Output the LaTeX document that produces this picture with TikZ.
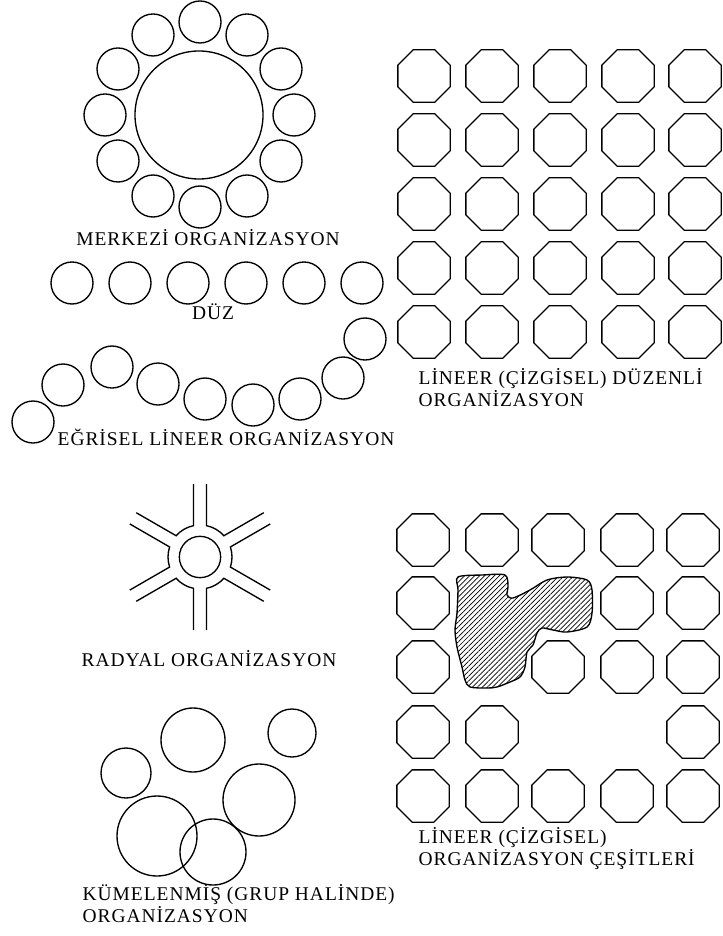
\documentclass[tikz,border=0pt]{standalone}
\usepackage{fontspec}
\setmainfont{Liberation Serif}[LetterSpace=5]
\usetikzlibrary{shapes.geometric,patterns.meta,calc}

\begin{document}
\begin{tikzpicture}[
  x=0.03cm,y=-0.03cm,
  line width=1.15pt,
  seat/.style={circle,draw,inner sep=0pt,minimum size=1.26cm},
  bigseat/.style={circle,draw,inner sep=0pt,minimum size=3.84cm},
  cell/.style={regular polygon,regular polygon sides=8,draw,inner sep=0pt,minimum size=1.7cm},
  group/.style={circle,draw,inner sep=0pt},
  caption/.style={font=\fontsize{16.6}{18.8}\selectfont,align=left,inner sep=0pt}
]
  \useasboundingbox (0,0) rectangle (722,936);

  \node[bigseat] (m0) at (199,115) {};
  \node[seat] (m1) at (200,22) {};
  \node[seat] (m2) at (247,35) {};
  \node[seat] (m3) at (281,69) {};
  \node[seat] (m4) at (294,115) {};
  \node[seat] (m5) at (281,161) {};
  \node[seat] (m6) at (247,196) {};
  \node[seat] (m7) at (200,207) {};
  \node[seat] (m8) at (153,196) {};
  \node[seat] (m9) at (118,161) {};
  \node[seat] (m10) at (105,115) {};
  \node[seat] (m11) at (118,69) {};
  \node[seat] (m12) at (153,35) {};
  \node[caption] (lmerk) at (208,238) {MERKEZİ ORGANİZASYON};

  \node[seat] (d1) at (72,283) {};
  \node[seat] (d2) at (130,283) {};
  \node[seat] (d3) at (188,283) {};
  \node[seat] (d4) at (246,283) {};
  \node[seat] (d5) at (304,283) {};
  \node[seat] (d6) at (362,283) {};
  \node[caption] (lduz) at (213,312) {DÜZ};

  \node[seat] (e1) at (33,422) {};
  \node[seat] (e2) at (63,385) {};
  \node[seat] (e3) at (112,367) {};
  \node[seat] (e4) at (158,384) {};
  \node[seat] (e5) at (205,399) {};
  \node[seat] (e6) at (253,405) {};
  \node[seat] (e7) at (300,399) {};
  \node[seat] (e8) at (343,378) {};
  \node[seat] (e9) at (365,339) {};
  \node[caption] (legri) at (226,437) {EĞRİSEL LİNEER ORGANİZASYON};

  \node[cell] (g11) at (424,76) {};
  \node[cell] (g12) at (492,76) {};
  \node[cell] (g13) at (560,76) {};
  \node[cell] (g14) at (628,76) {};
  \node[cell] (g15) at (695,76) {};
  \node[cell] (g21) at (424,140) {};
  \node[cell] (g22) at (492,140) {};
  \node[cell] (g23) at (560,140) {};
  \node[cell] (g24) at (628,140) {};
  \node[cell] (g25) at (695,140) {};
  \node[cell] (g31) at (424,204) {};
  \node[cell] (g32) at (492,204) {};
  \node[cell] (g33) at (560,204) {};
  \node[cell] (g34) at (628,204) {};
  \node[cell] (g35) at (695,204) {};
  \node[cell] (g41) at (424,268) {};
  \node[cell] (g42) at (492,268) {};
  \node[cell] (g43) at (560,268) {};
  \node[cell] (g44) at (628,268) {};
  \node[cell] (g45) at (695,268) {};
  \node[cell] (g51) at (424,332) {};
  \node[cell] (g52) at (492,332) {};
  \node[cell] (g53) at (560,332) {};
  \node[cell] (g54) at (628,332) {};
  \node[cell] (g55) at (695,332) {};
  \node[caption,anchor=west] (lgrid) at (418,388) {LİNEER (ÇİZGİSEL) DÜZENLİ\\ORGANİZASYON};

  \node[seat,minimum size=1.24cm] (hub) at (200,557) {};
  \draw ($(hub.center)+(41.7:0.96cm)+(30:1.38cm)$) -- ($(hub.center)+(41.7:0.96cm)$)
    arc[start angle=41.7,end angle=78.3,radius=0.96cm] -- ++(90:1.25cm);
  \draw ($(hub.center)+(101.7:0.96cm)+(90:1.25cm)$) -- ($(hub.center)+(101.7:0.96cm)$)
    arc[start angle=101.7,end angle=138.3,radius=0.96cm] -- ++(150:1.38cm);
  \draw ($(hub.center)+(161.7:0.96cm)+(150:1.38cm)$) -- ($(hub.center)+(161.7:0.96cm)$)
    arc[start angle=161.7,end angle=198.3,radius=0.96cm] -- ++(210:1.38cm);
  \draw ($(hub.center)+(221.7:0.96cm)+(210:1.38cm)$) -- ($(hub.center)+(221.7:0.96cm)$)
    arc[start angle=221.7,end angle=258.3,radius=0.96cm] -- ++(270:1.25cm);
  \draw ($(hub.center)+(281.7:0.96cm)+(270:1.25cm)$) -- ($(hub.center)+(281.7:0.96cm)$)
    arc[start angle=281.7,end angle=318.3,radius=0.96cm] -- ++(330:1.38cm);
  \draw ($(hub.center)+(341.7:0.96cm)+(330:1.38cm)$) -- ($(hub.center)+(341.7:0.96cm)$)
    arc[start angle=341.7,end angle=378.3,radius=0.96cm] -- ++(30:1.38cm);
  \node[caption] (lrad) at (209,659) {RADYAL ORGANİZASYON};

  \node[cell] (h11) at (423,540) {};
  \node[cell] (h12) at (492,540) {};
  \node[cell] (h13) at (558,540) {};
  \node[cell] (h14) at (627,540) {};
  \node[cell] (h15) at (693,540) {};
  \node[cell] (h21) at (423,603) {};
  \node[cell] (h24) at (627,603) {};
  \node[cell] (h25) at (693,603) {};
  \node[cell] (h31) at (423,667) {};
  \node[cell] (h33) at (558,667) {};
  \node[cell] (h34) at (627,667) {};
  \node[cell] (h35) at (693,667) {};
  \node[cell] (h41) at (423,732) {};
  \node[cell] (h42) at (492,732) {};
  \node[cell] (h45) at (693,732) {};
  \node[cell] (h51) at (423,796) {};
  \node[cell] (h52) at (492,796) {};
  \node[cell] (h53) at (558,796) {};
  \node[cell] (h54) at (627,796) {};
  \node[cell] (h55) at (693,796) {};
  \draw[pattern={Lines[angle=45,distance=3pt,line width=0.6pt]}] plot[smooth cycle,tension=0.5] coordinates {
    (458,577) (482,575) (505,575) (508,587) (507,595) (513,598) (530,590) (547,580)
    (567,577) (587,580) (592,590) (592,613) (587,627) (567,632) (553,630) (542,628)
    (537,633) (533,645) (527,652) (525,667) (520,677) (510,682) (497,687) (487,688)
    (470,687) (465,680) (462,667) (457,647) (455,630) (457,613) (458,590)};
  \node[caption,anchor=west] (lkind) at (418,849) {LİNEER (ÇİZGİSEL)\\ORGANİZASYON ÇEŞİTLERİ};

  \node[group,minimum size=1.92cm] (k1) at (193,740) {};
  \node[group,minimum size=1.44cm] (k2) at (292,733) {};
  \node[group,minimum size=1.5cm] (k3) at (126,773) {};
  \node[group,minimum size=2.16cm] (k4) at (259,800) {};
  \node[group,minimum size=2.4cm] (k5) at (157,836) {};
  \node[group,minimum size=1.98cm] (k6) at (213,852) {};
  \node[caption,anchor=west] (lgrup) at (82,904) {KÜMELENMİŞ (GRUP HALİNDE)\\ORGANİZASYON};
\end{tikzpicture}
\end{document}
